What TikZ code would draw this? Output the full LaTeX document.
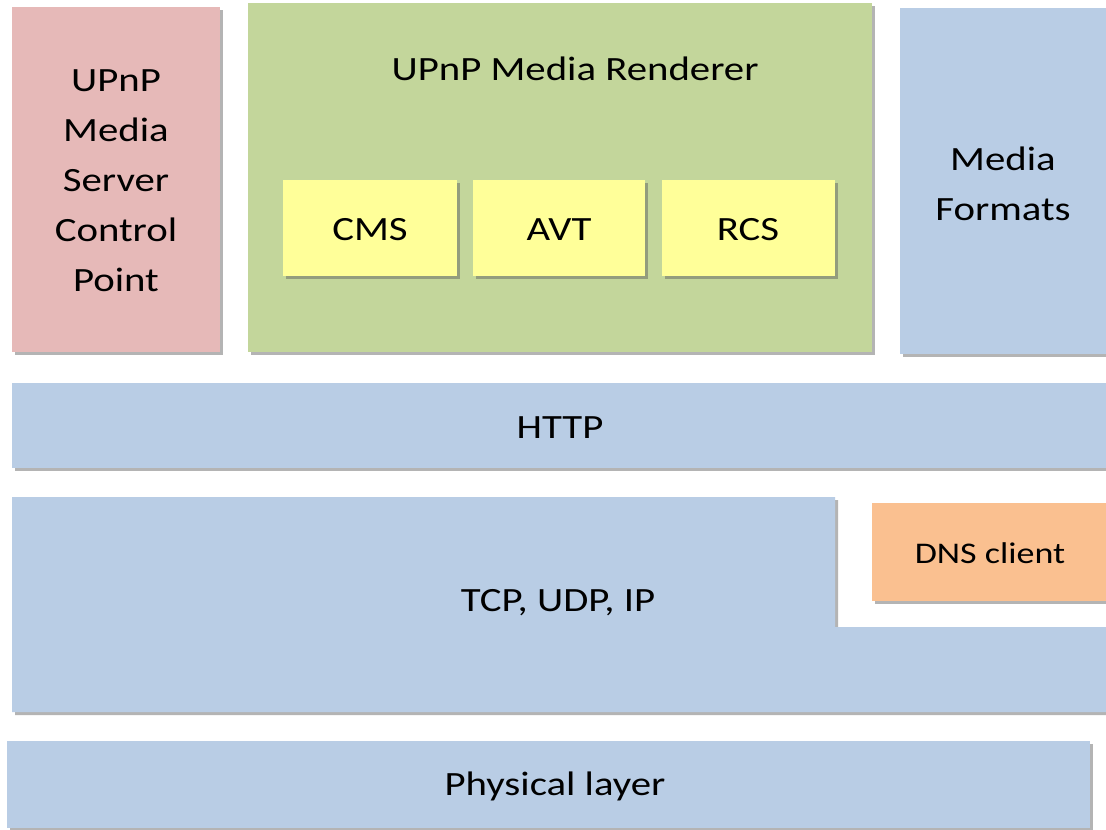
\documentclass[tikz,border=0pt]{standalone}
\usepackage{fontspec}
\setmainfont[FakeStretch=1.2]{Carlito}
\usetikzlibrary{shadows}
\definecolor{pinkc}{HTML}{E6B9B8}
\definecolor{greenc}{HTML}{C3D69B}
\definecolor{yellowc}{HTML}{FFFF99}
\definecolor{bluec}{HTML}{B9CDE5}
\definecolor{orangec}{HTML}{FAC090}
\tikzset{
  layer/.style={draw=none, inner sep=0pt, anchor=north west,
    drop shadow={shadow xshift=3pt, shadow yshift=-3pt, opacity=0.45, fill=black!65}},
  lbl/.style={font=\fontsize{34}{50}\selectfont, align=center, inner sep=0pt, text=black},
  smalllbl/.style={font=\fontsize{30}{40}\selectfont, align=center, inner sep=0pt, text=black}
}
\begin{document}
\begin{tikzpicture}[x=1pt,y=-1pt]
\useasboundingbox (0,0) rectangle (1106,830);
\clip (0,0) rectangle (1106,830);
\fill[white] (0,0) rectangle (1106,830);
% top row
\node[layer, fill=pinkc, minimum width=208pt, minimum height=345pt] (cp) at (12,7) {};
\node[layer, fill=greenc, minimum width=624pt, minimum height=349pt] (mr) at (248,3) {};
\node[layer, fill=bluec, minimum width=210pt, minimum height=346pt] (mf) at (900,8) {};
\node[layer, fill=yellowc, minimum width=174pt, minimum height=96pt] (cms) at (283,180) {};
\node[layer, fill=yellowc, minimum width=172pt, minimum height=96pt] (avt) at (473,180) {};
\node[layer, fill=yellowc, minimum width=173pt, minimum height=96pt] (rcs) at (662,180) {};
% layers
\node[layer, fill=bluec, minimum width=1100pt, minimum height=85pt] (http) at (12,383) {};
\path[fill=bluec, drop shadow={shadow xshift=3pt, shadow yshift=-3pt, opacity=0.45, fill=black!65}]
  (12,497) -- (835,497) -- (835,627) -- (1110,627) -- (1110,712) -- (12,712) -- cycle;
\node[layer, fill=orangec, minimum width=238pt, minimum height=98pt] (dns) at (872,503) {};
\node[layer, fill=bluec, minimum width=1083pt, minimum height=87pt] (phys) at (7,741) {};
% labels
\node[lbl] (cptext) at (116,181) {UPnP\\Media\\Server\\Control\\Point};
\node[lbl] (mrtext) at (575,69) {UPnP Media Renderer};
\node[lbl] (cmstext) at (370,230) {CMS};
\node[lbl] (avttext) at (559,230) {AVT};
\node[lbl] (rcstext) at (748,230) {RCS};
\node[lbl] (mftext) at (1003,184) {Media\\Formats};
\node[lbl] (httptext) at (560,428) {HTTP};
\node[lbl] (tcptext) at (558,603) {TCP, UDP, IP};
\node[smalllbl] (dnstext) at (990,553) {DNS client};
\node[lbl] (phystext) at (555,786) {Physical layer};
\end{tikzpicture}
\end{document}
